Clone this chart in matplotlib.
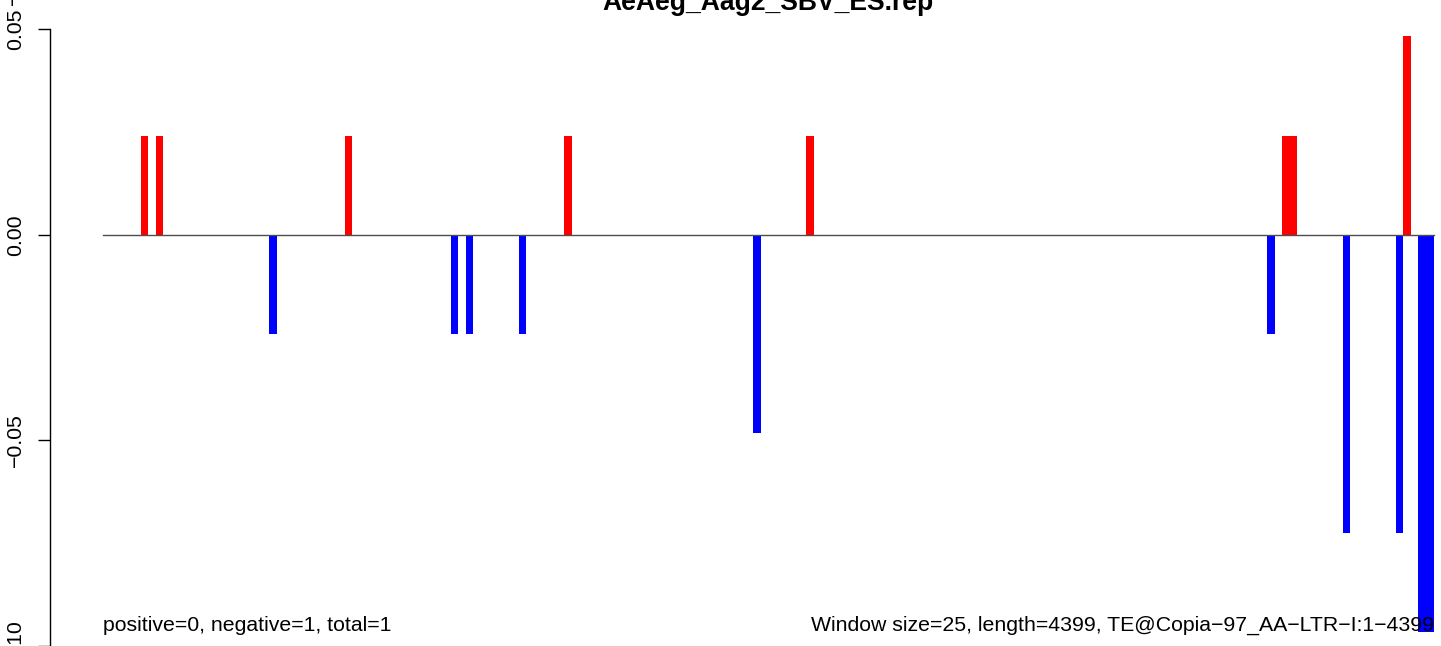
import matplotlib
matplotlib.use("Agg")
import matplotlib.pyplot as plt
from matplotlib.transforms import blended_transform_factory
import numpy as np

# ---- data ----
title = "AeAeg_Aag2_SBV_ES.rep"
n_windows = 176
positive_windows = [5, 7, 32, 61, 93, 156, 157, 172]
positive_values = [0.0241, 0.0241, 0.0241, 0.0241, 0.0241, 0.0241, 0.0241, 0.0483]
negative_windows = [22, 46, 48, 55, 86, 154, 164, 171, 174, 175]
negative_values = [-0.0241, -0.0241, -0.0241, -0.0241, -0.0483, -0.0241,
                   -0.0724, -0.0724, -0.0966, -0.0966]
y_ticks = [-0.10, -0.05, 0.00, 0.05]
y_ticklabels = ["\u22120.10", "\u22120.05", "0.00", "0.05"]
left_note = "positive=0, negative=1, total=1"
right_note = "Window size=25, length=4399, TE@Copia\u221297_AA\u2212LTR\u2212I:1\u22124399"

plt.rcParams['font.family'] = ['Liberation Sans', 'DejaVu Sans']
FS = 15.3

W, H = 1441, 646
fig = plt.figure(figsize=(W / 100, H / 100), dpi=100)

# pixel layout (from reference)
px0, pxw = 103.0, 7.56          # left edge of window 0, pixels per window
py0, pyu = 236.0, 206.5 / 0.05  # y of zero, pixels per unit

xlim = (-px0 / pxw, (W - px0) / pxw)
ylim = (-(H - py0) / pyu, py0 / pyu)

ax = fig.add_axes([0, 0, 1, 1])
ax.set_xlim(*xlim)
ax.set_ylim(*ylim)
ax.patch.set_alpha(0)

ax.bar(positive_windows, positive_values, width=1.0, align='edge',
       color='#ff0000', linewidth=0)
ax.bar(negative_windows, negative_values, width=1.0, align='edge',
       color='#0000ff', linewidth=0)
ax.plot([0, n_windows], [0, 0], color='#4d4d4d', linewidth=1.0, zorder=3)

axis_x = -0.04 * n_windows
for s in ['top', 'right', 'bottom']:
    ax.spines[s].set_visible(False)
ax.spines['left'].set_position(('data', axis_x))
ax.spines['left'].set_bounds(-0.10, 0.05)
ax.spines['left'].set_linewidth(1.0)
ax.set_xticks([])
ax.set_yticks(y_ticks)
ax.set_yticklabels(y_ticklabels, rotation=90, va='center', fontsize=FS)
ax.tick_params(axis='y', length=9, width=1.0, pad=9)

# bottom of the previous panel's -0.10 label peeking in at the top
tr = blended_transform_factory(fig.dpi_scale_trans, ax.transData)
ax.text(13.5 / 100, ylim[1] + 22 / pyu, "\u22120.10", rotation=90,
        fontsize=FS, ha='center', va='center', transform=tr)

ax.text(0.5 * (axis_x + n_windows * 1.04), ylim[1] - 10.5 / pyu, title,
        ha='center', va='baseline', fontsize=19.1, fontweight='bold')

base_y = -(634 - py0) / pyu
ax.text(0, base_y, left_note, ha='left', va='baseline', fontsize=FS)
ax.text(n_windows, base_y, right_note, ha='right', va='baseline', fontsize=FS)

fig.savefig("out.png", dpi=100)
